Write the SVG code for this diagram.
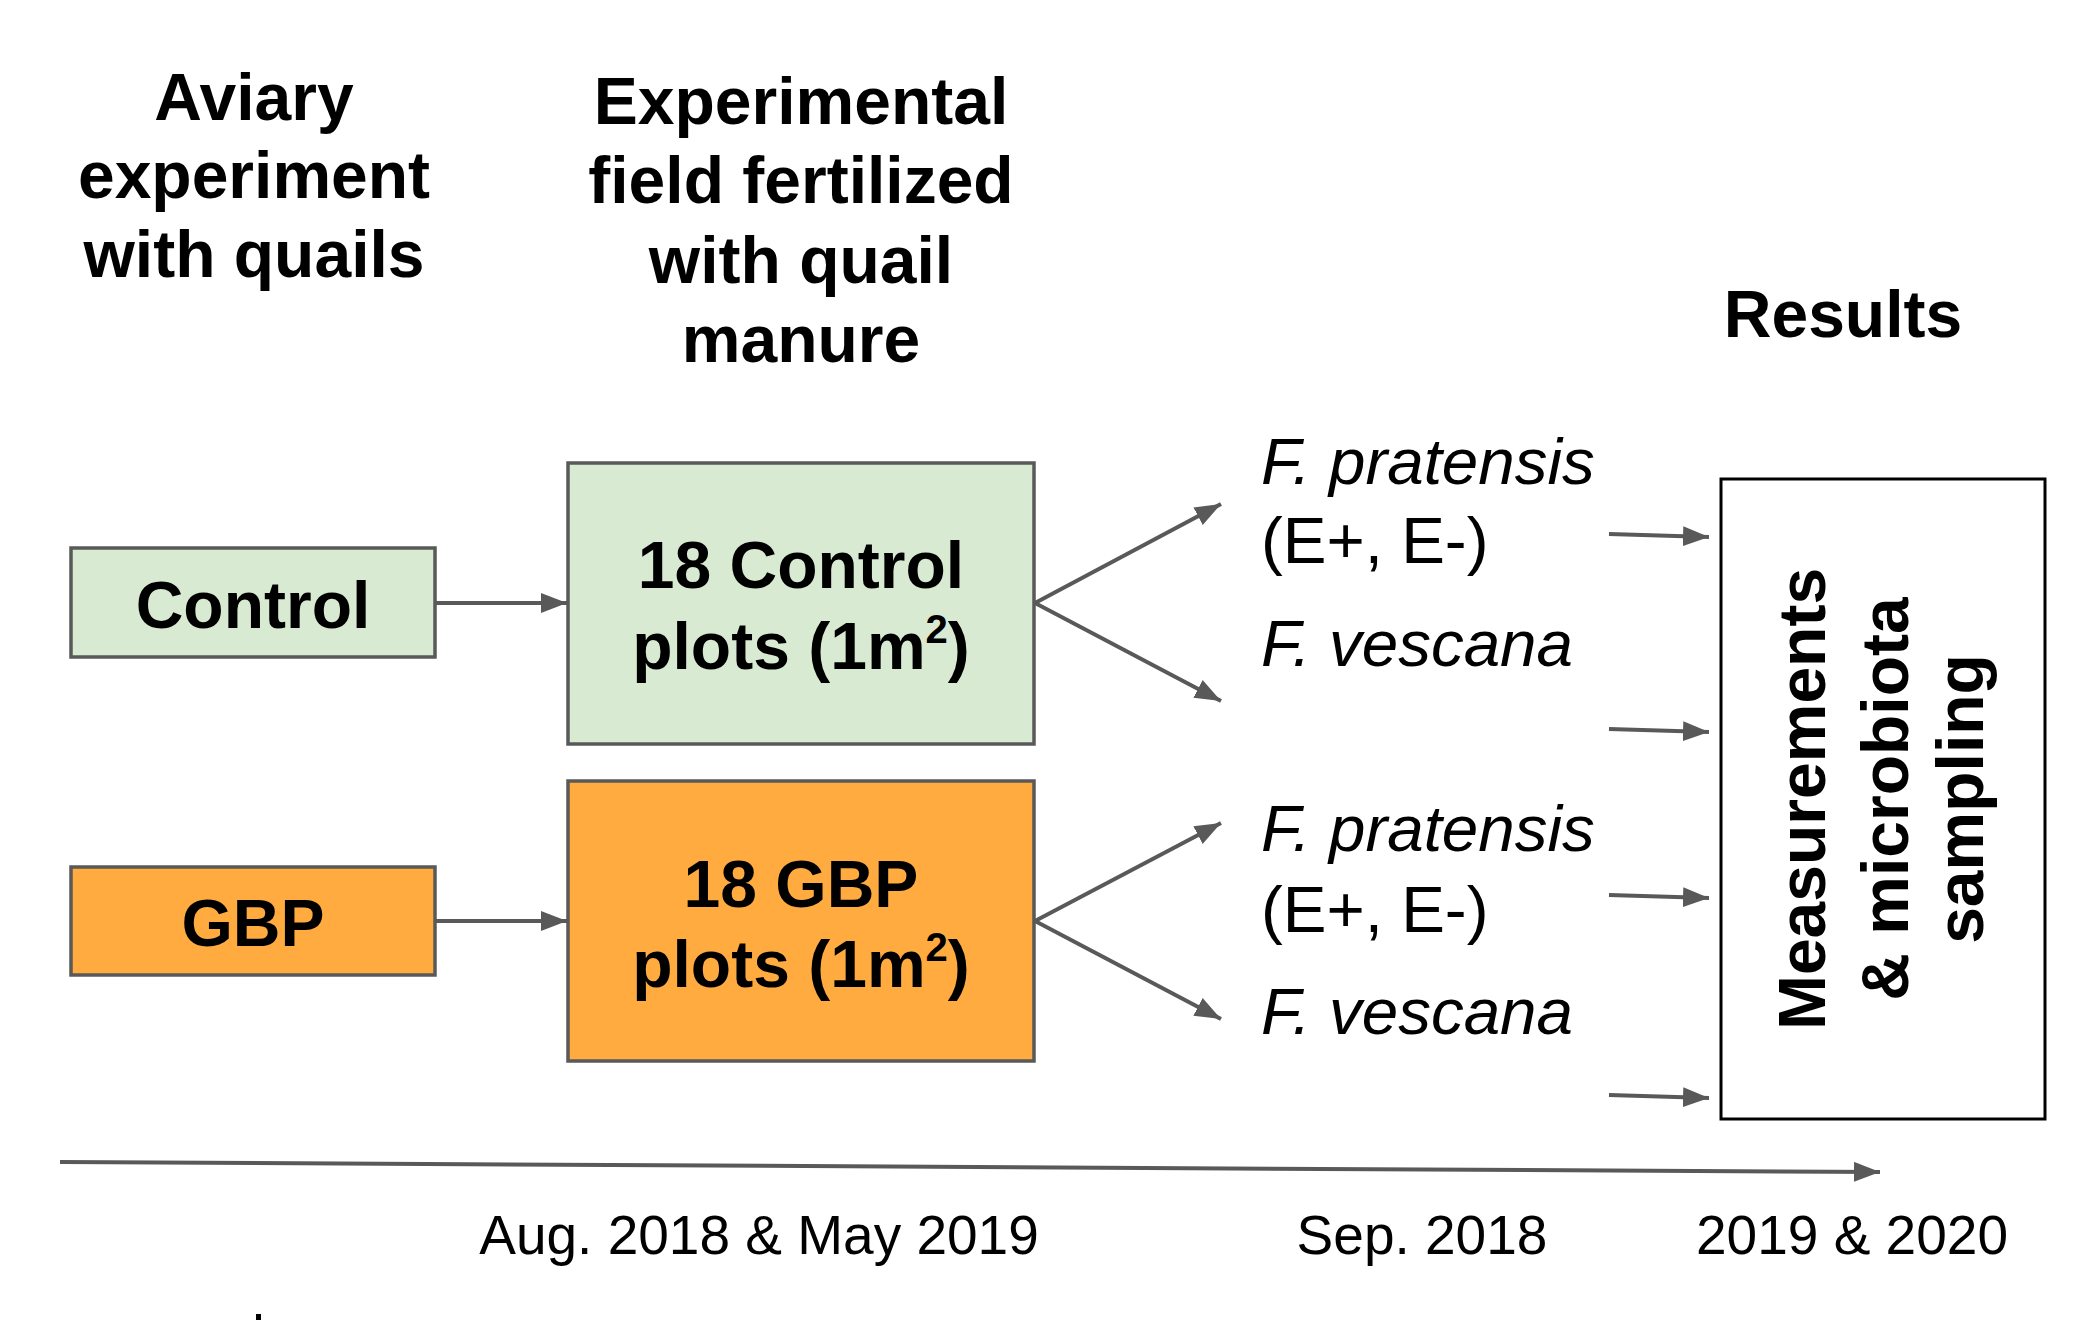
<svg xmlns="http://www.w3.org/2000/svg" width="2097" height="1320" viewBox="0 0 2097 1320">
<defs>
<marker id="ah" markerUnits="strokeWidth" markerWidth="7" markerHeight="6" refX="6.5" refY="2.5" orient="auto">
<path d="M0,0 L6.5,2.5 L0,5 Z" fill="#595959"/>
</marker>
<style>
.t{font-family:"Liberation Sans",Arial,sans-serif;fill:#000;}
.b{font-weight:bold;font-size:66px;text-anchor:middle;}
.sp{font-size:65.5px;}
.it{font-style:italic;}
.dt{font-size:55px;text-anchor:middle;}
.box{stroke:#595959;stroke-width:3.5;}
.c{stroke:#595959;stroke-width:4;fill:none;marker-end:url(#ah);}
</style>
</defs>
<rect width="2097" height="1320" fill="#fff"/>
<g id="titles">
<text class="t b" x="254" y="120">Aviary</text>
<text class="t b" x="254" y="198">experiment</text>
<text class="t b" x="254" y="277">with quails</text>
<text class="t b" x="801" y="124">Experimental</text>
<text class="t b" x="801" y="203">field fertilized</text>
<text class="t b" x="801" y="283">with quail</text>
<text class="t b" x="801" y="362">manure</text>
<text class="t b" x="1843" y="337">Results</text>
</g>
<g id="control">
<rect class="box" x="71" y="548" width="364" height="109" fill="#d9ead3"/>
<text class="t b" x="253" y="628">Control</text>
</g>
<g id="control-plots">
<rect class="box" x="568" y="463" width="466" height="281" fill="#d9ead3"/>
<text class="t b" x="801" y="588">18 Control</text>
<text class="t b" x="801" y="669">plots (1m<tspan font-size="40" dy="-26">2</tspan><tspan dy="26">)</tspan></text>
</g>
<g id="gbp">
<rect class="box" x="71" y="867" width="364" height="108" fill="#ffab40"/>
<text class="t b" x="253" y="946">GBP</text>
</g>
<g id="gbp-plots">
<rect class="box" x="568" y="781" width="466" height="280" fill="#ffab40"/>
<text class="t b" x="801" y="907">18 GBP</text>
<text class="t b" x="801" y="987">plots (1m<tspan font-size="40" dy="-26">2</tspan><tspan dy="26">)</tspan></text>
</g>
<g id="species-control">
<text class="t sp it" x="1261" y="484">F. pratensis</text>
<text class="t sp" x="1261" y="563">(E+, E-)</text>
<text class="t sp it" x="1261" y="666">F. vescana</text>
</g>
<g id="species-gbp">
<text class="t sp it" x="1261" y="851">F. pratensis</text>
<text class="t sp" x="1261" y="932">(E+, E-)</text>
<text class="t sp it" x="1261" y="1034">F. vescana</text>
</g>
<g id="results">
<rect x="1721" y="479" width="324" height="640" fill="#fff" stroke="#000" stroke-width="3"/>
<g transform="translate(1883,799) rotate(-90)">
<text class="t b" x="0" y="-58">Measurements</text>
<text class="t b" x="0" y="25">&amp; microbiota</text>
<text class="t b" x="0" y="100">sampling</text>
</g>
</g>
<g id="dates">
<text class="t dt" x="759" y="1254">Aug. 2018 &amp; May 2019</text>
<text class="t dt" x="1422" y="1254">Sep. 2018</text>
<text class="t dt" x="1852" y="1254">2019 &amp; 2020</text>
<rect x="256" y="1314" width="5" height="6" fill="#000"/>
</g>
<g id="connectors">
<line class="c" x1="435" y1="603" x2="567" y2="603"/>
<line class="c" x1="435" y1="921" x2="567" y2="921"/>
<line class="c" x1="1035" y1="603" x2="1221" y2="504"/>
<line class="c" x1="1035" y1="603" x2="1221" y2="701"/>
<line class="c" x1="1035" y1="921" x2="1221" y2="823"/>
<line class="c" x1="1035" y1="921" x2="1221" y2="1019"/>
<line class="c" x1="1609" y1="534" x2="1709" y2="537"/>
<line class="c" x1="1609" y1="729" x2="1709" y2="732"/>
<line class="c" x1="1609" y1="895" x2="1709" y2="898"/>
<line class="c" x1="1609" y1="1095" x2="1709" y2="1098"/>
<line class="c" x1="60" y1="1162" x2="1880" y2="1172"/>
</g>
</svg>
